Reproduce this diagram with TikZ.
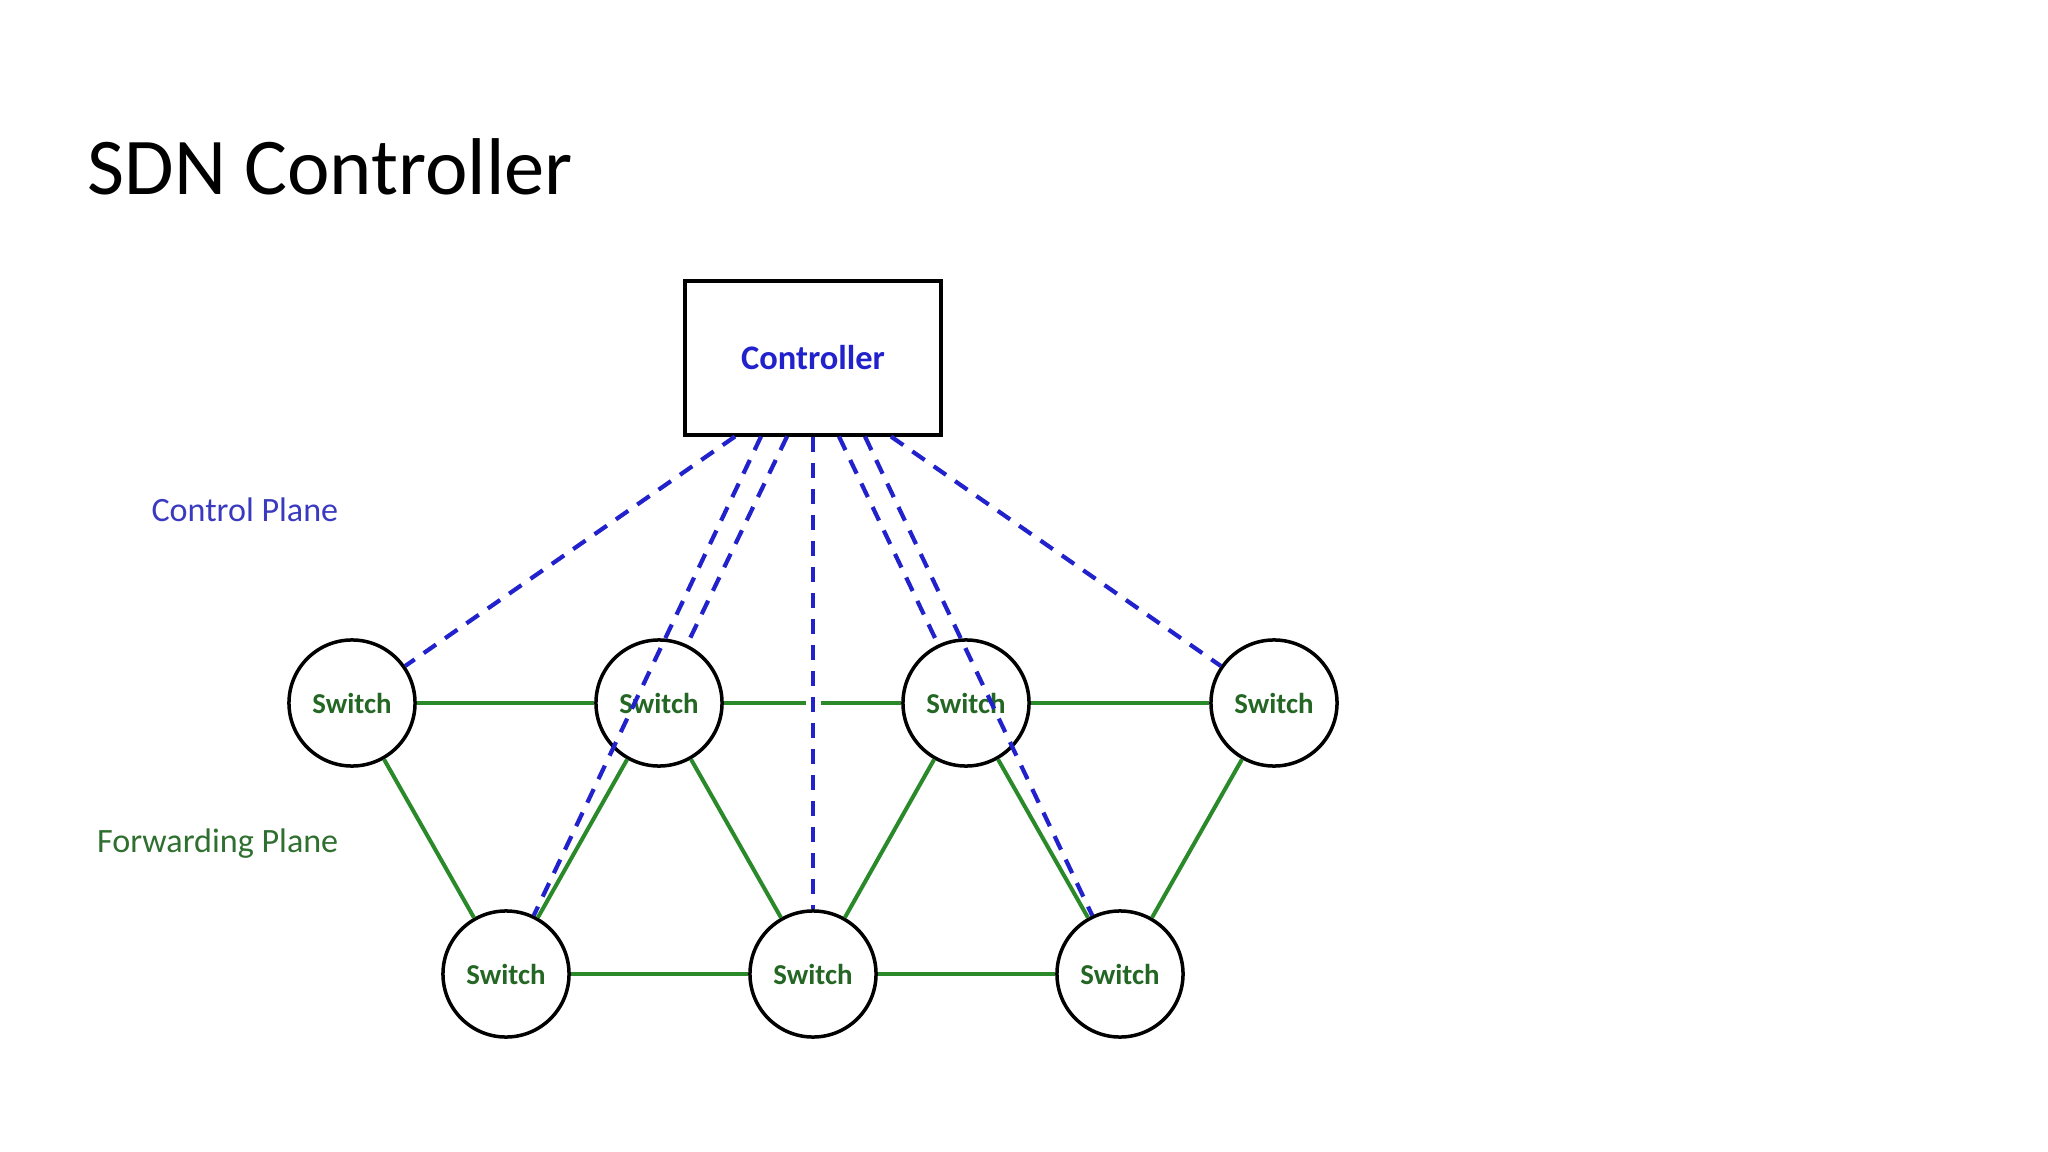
\documentclass[tikz,border=0pt]{standalone}
\usepackage{fontspec}
\setmainfont{Carlito}
\definecolor{ctrlblue}{RGB}{34,34,204}
\definecolor{planeblue}{RGB}{58,58,192}
\definecolor{fwdgreen}{RGB}{42,138,42}
\definecolor{swgreen}{RGB}{36,102,36}
\definecolor{planegreen}{RGB}{47,111,47}
\tikzset{
  switchnode/.style={circle,draw=black,line width=0.035cm,fill=white,minimum size=1.26cm,inner sep=0pt,
    font=\fontsize{8.2}{10}\selectfont\bfseries,text=swgreen},
  ctrlnode/.style={rectangle,draw=black,line width=0.04cm,minimum width=2.56cm,minimum height=1.53cm,
    font=\fontsize{9.8}{12}\selectfont\bfseries,text=ctrlblue},
  ctrllink/.style={draw=ctrlblue,line width=0.042cm,dash pattern=on 0.15cm off 0.11cm},
  fwdlink/.style={draw=fwdgreen,line width=0.04cm}
}
\begin{document}
\begin{tikzpicture}[x=0.01cm,y=-0.01cm]
        \useasboundingbox (0,0) rectangle (2048,1152);
        % titulo
        \node[anchor=base west,inner sep=0pt,font=\fontsize{22.9}{27}\selectfont] (title) at (87,195) {SDN Controller};
        % etiquetas de los planos
        \node[anchor=base east,inner sep=0pt,text=planeblue,font=\fontsize{9.7}{11}\selectfont] (cplane) at (339,522) {Control Plane};
        \node[anchor=base east,inner sep=0pt,text=planegreen,font=\fontsize{9.7}{11}\selectfont] (fplane) at (339,852) {Forwarding Plane};
        % controlador
        \node[ctrlnode] (ctrl) at (813,358) {Controller};
        % switches
        \foreach \n/\x in {t1/352,t2/659,t3/966,t4/1274}
        \node[switchnode] (\n) at (\x,703) {Switch};
        \foreach \n/\x in {b1/506,b2/813,b3/1120}
        \node[switchnode] (\n) at (\x,974) {Switch};
        % enlaces del plano de reenvio
        \foreach \a/\b in {t1/t2,t2/t3,t3/t4,b1/b2,b2/b3,t1/b1,b1/t2,t2/b2,b2/t3,t3/b3,b3/t4}
        \draw[fwdlink] (\a) -- (\b);
        % puntos de salida del controlador
        \foreach \i/\dx in {1/-78,2/-52,3/-26,0/0,4/26,5/52,6/78}
        \coordinate (p\i) at ([xshift=\dx*0.01cm]ctrl.south);
        % enlaces del plano de control
        \foreach \p/\s in {p1/t1,p2/b1,p3/t2,p4/t3,p5/b3,p6/t4}
        \draw[ctrllink] (\p) -- (\s);
        \draw[ctrllink,preaction={draw=white,solid,line width=0.15cm,shorten <=2.3cm,shorten >=1.6cm}] (p0) -- (b2);
\end{tikzpicture}
\end{document}
